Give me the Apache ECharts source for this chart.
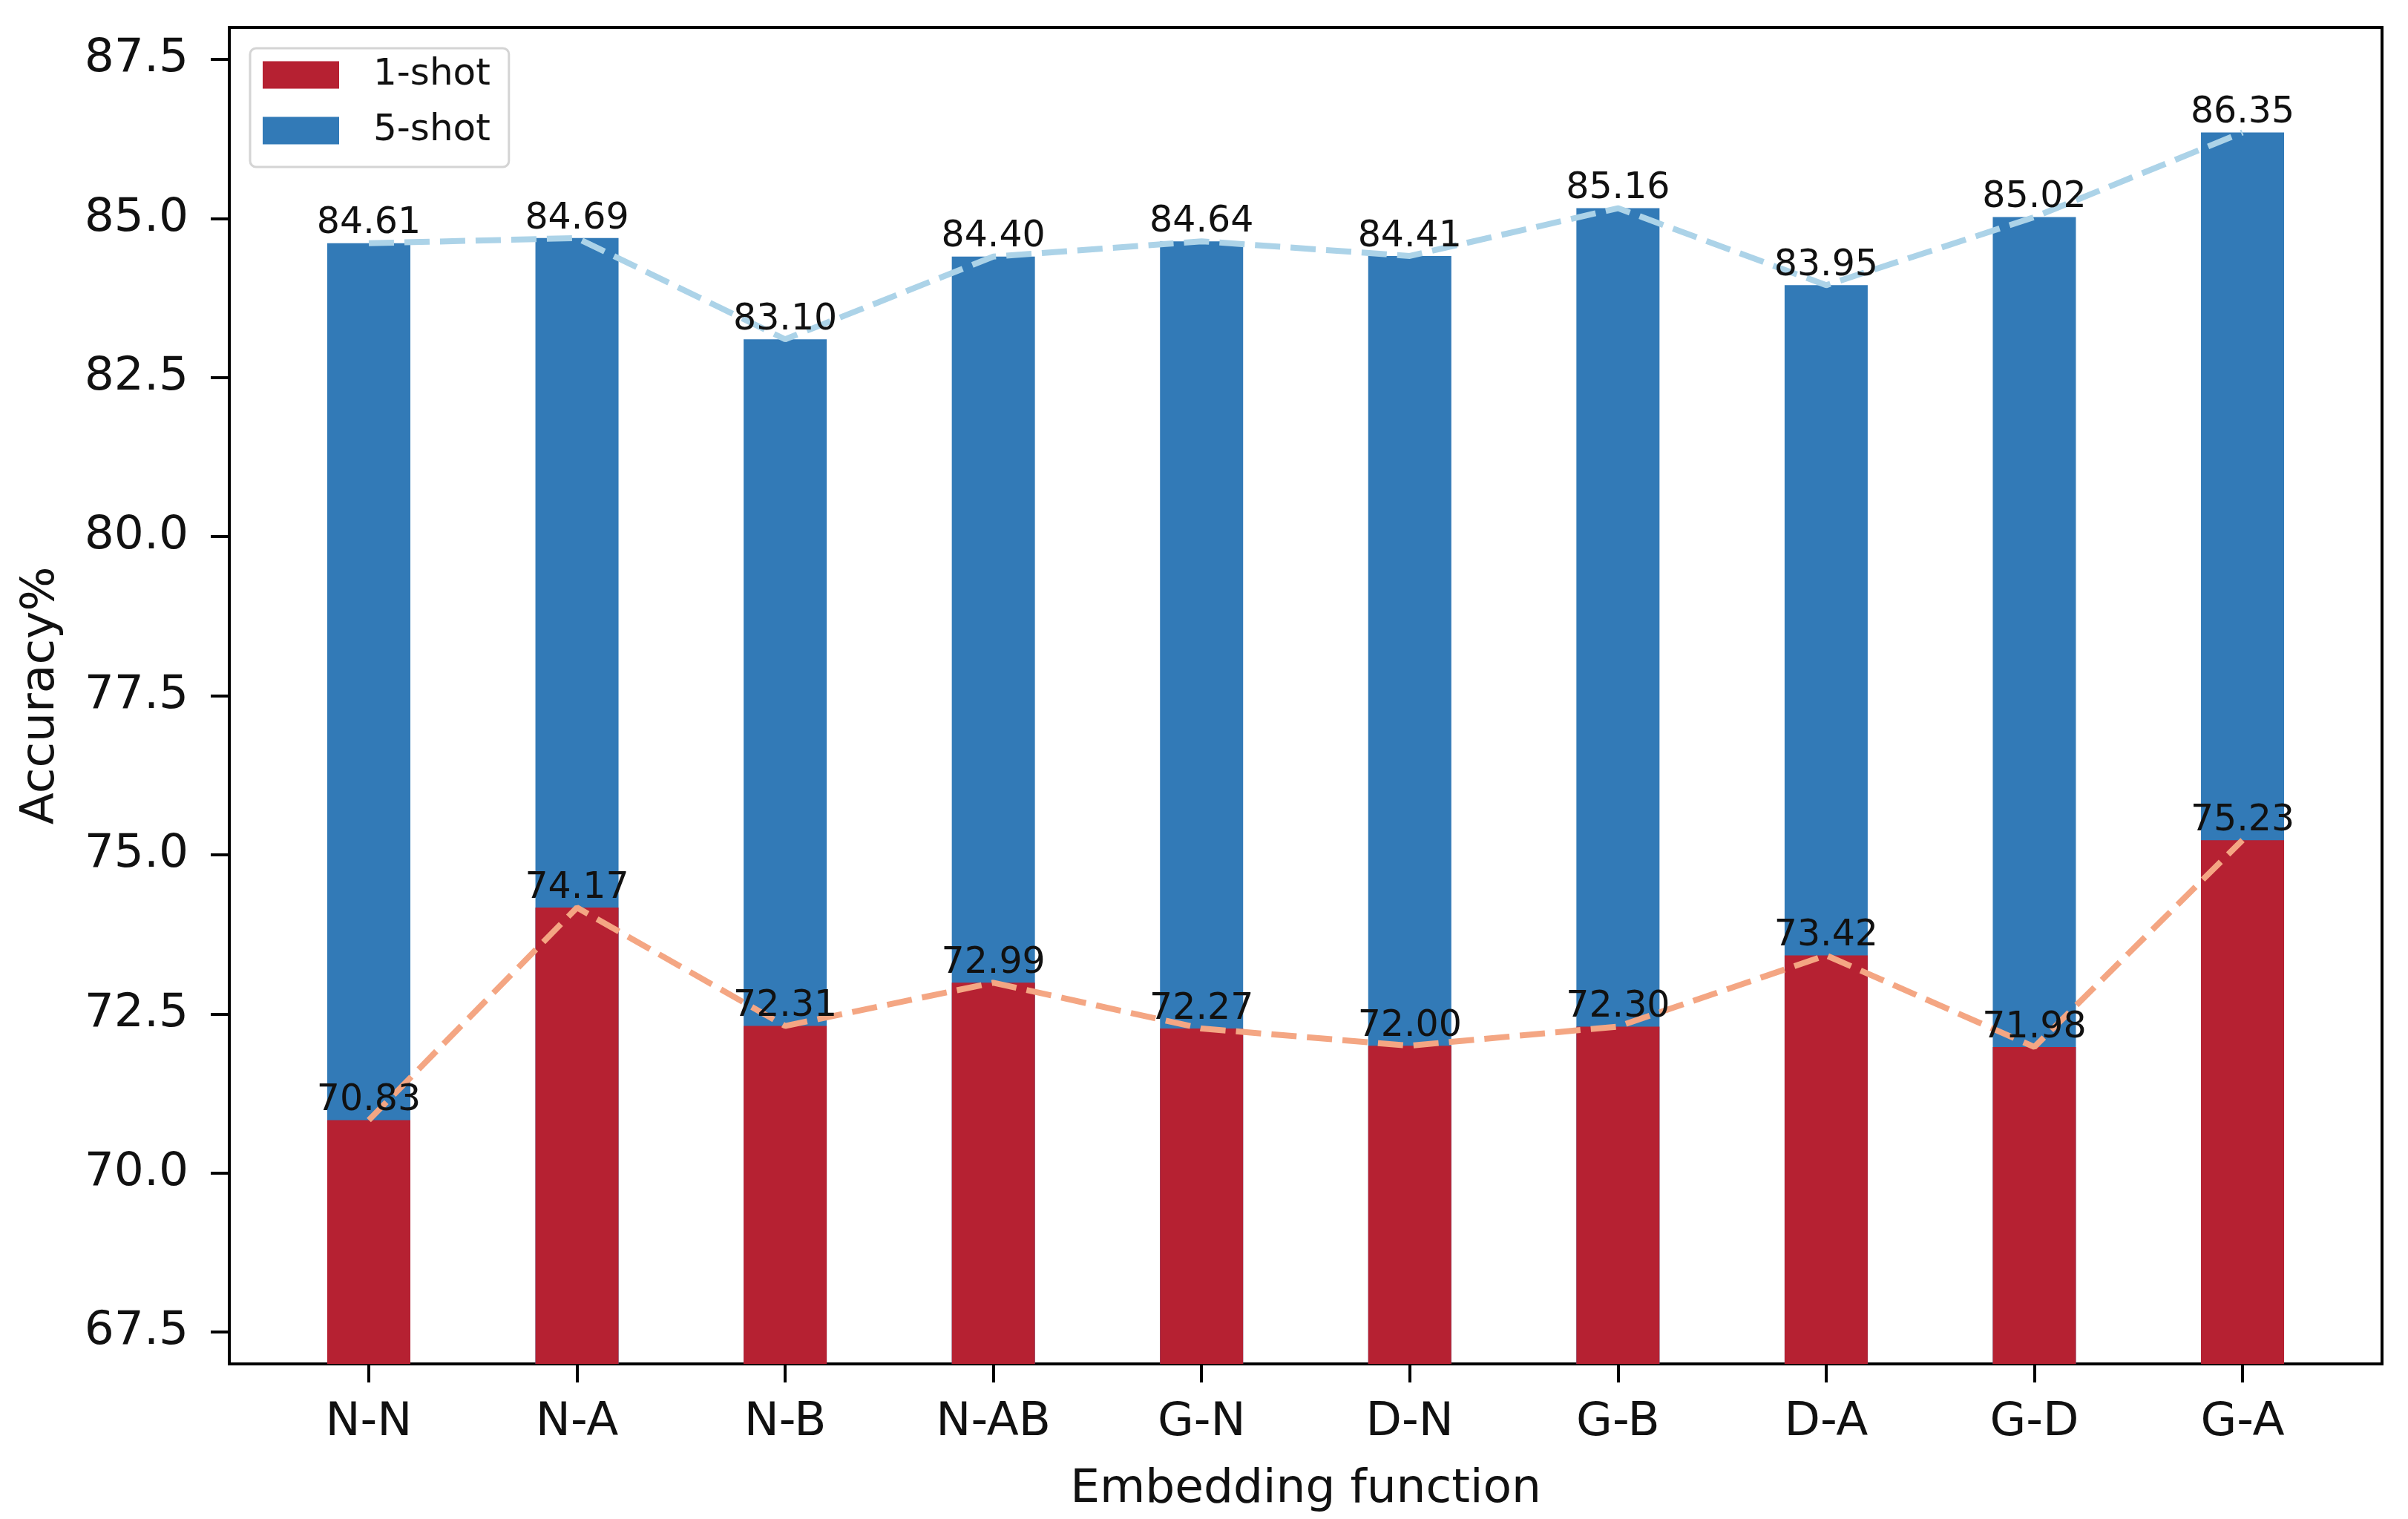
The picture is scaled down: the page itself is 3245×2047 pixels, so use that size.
<!DOCTYPE html>
<html>
<head>
<meta charset="utf-8">
<script src="https://cdn.jsdelivr.net/npm/echarts@6/dist/echarts.min.js"></script>
<style>
html,body{margin:0;padding:0;background:#fff;}
#chart{width:3245px;height:2047px;}
</style>
</head>
<body>
<div id="chart"></div>
<script>
const categories = ['N-N','N-A','N-B','N-AB','G-N','D-N','G-B','D-A','G-D','G-A'];
const oneShot = [70.83, 74.17, 72.31, 72.99, 72.27, 72.00, 72.30, 73.42, 71.98, 75.23];
const fiveShot = [84.61, 84.69, 83.10, 84.40, 84.64, 84.41, 85.16, 83.95, 85.02, 86.35];
const yTicks = [67.5, 70.0, 72.5, 75.0, 77.5, 80.0, 82.5, 85.0, 87.5];

const FONT = 'DejaVu Sans';
const idx = categories.map((c, i) => i);
const pairs = arr => arr.map((v, i) => [i, v]);

const chart = echarts.init(document.getElementById('chart'), null, {renderer: 'canvas'});
const labelStyle = {
  show: true, position: 'top', distance: 1,
  fontFamily: FONT, fontSize: 49, lineHeight: 49, color: '#111',
  formatter: p => p.value[1].toFixed(2)
};
chart.setOption({
  animation: false,
  backgroundColor: '#fff',
  grid: {left: 309, top: 37, right: 35, bottom: 209, show: true, borderColor: '#000', borderWidth: 4, backgroundColor: 'transparent'},
  legend: {
    orient: 'vertical', left: 337, top: 65,
    data: ['1-shot', '5-shot'],
    icon: 'rect', itemWidth: 103, itemHeight: 37, itemGap: 25,
    padding: [11, 25, 24, 17],
    borderColor: '#d4d4d4', borderWidth: 3, borderRadius: 8,
    backgroundColor: 'rgba(255,255,255,0.8)',
    textStyle: {fontFamily: FONT, fontSize: 50, lineHeight: 50, color: '#111', padding: [0, 0, 0, 41]}
  },
  xAxis: {
    type: 'value', min: -0.67, max: 9.67,
    name: 'Embedding function', nameLocation: 'middle', nameGap: 138,
    nameTextStyle: {fontFamily: FONT, fontSize: 63, lineHeight: 63, color: '#111'},
    axisLine: {show: true, onZero: false, lineStyle: {color: '#000', width: 4}},
    axisTick: {show: true, customValues: idx, length: 25, lineStyle: {color: '#000', width: 4}},
    axisLabel: {customValues: idx, margin: 48, fontFamily: FONT, fontSize: 63, lineHeight: 63, color: '#111',
      formatter: v => categories[Math.round(v)]},
    splitLine: {show: false}
  },
  yAxis: {
    type: 'value', min: 67.0, max: 88.0,
    name: 'Accuracy%', nameLocation: 'middle', nameGap: 222, nameRotate: 90,
    nameTextStyle: {fontFamily: FONT, fontSize: 63, lineHeight: 63, color: '#111'},
    axisLine: {show: true, onZero: false, lineStyle: {color: '#000', width: 4}},
    axisTick: {show: true, customValues: yTicks, length: 25, lineStyle: {color: '#000', width: 4}},
    axisLabel: {customValues: yTicks, margin: 55, fontFamily: FONT, fontSize: 63, color: '#111',
      formatter: v => v.toFixed(1)},
    splitLine: {show: false}
  },
  series: [
    {name: '5-shot', type: 'bar', data: pairs(fiveShot), barWidth: 112, barGap: '-100%',
      itemStyle: {color: '#327ab7'}, z: 2},
    {name: '1-shot', type: 'bar', data: pairs(oneShot), barWidth: 112, barGap: '-100%',
      itemStyle: {color: '#b62132'}, z: 2},
    {name: '5-shot trend', type: 'line', data: pairs(fiveShot), symbol: 'circle', symbolSize: 1, showSymbol: true,
      itemStyle: {color: 'transparent'},
      lineStyle: {color: '#acd3e8', width: 8, type: [34, 14]}, label: labelStyle, z: 5},
    {name: '1-shot trend', type: 'line', data: pairs(oneShot), symbol: 'circle', symbolSize: 1, showSymbol: true,
      itemStyle: {color: 'transparent'},
      lineStyle: {color: '#f4a683', width: 8, type: [34, 14]}, label: labelStyle, z: 5}
  ]
});
</script>
</body>
</html>
